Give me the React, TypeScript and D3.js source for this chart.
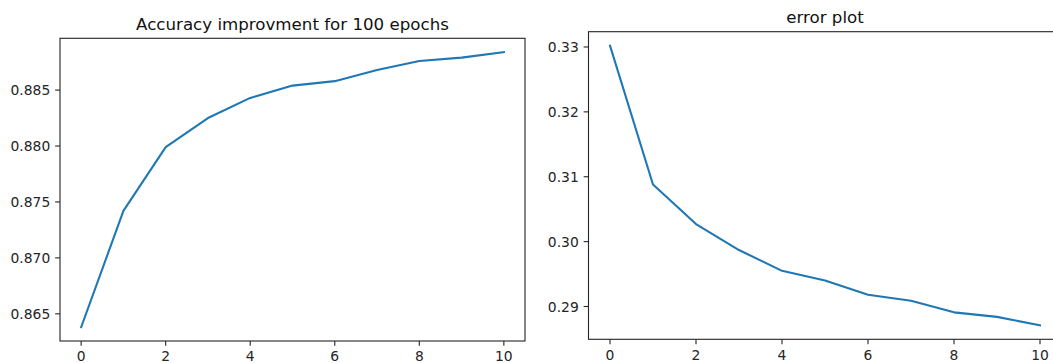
import React from "react";
import * as d3 from "d3";

const epochs = [0, 1, 2, 3, 4, 5, 6, 7, 8, 9, 10];
const accuracy = [0.8638, 0.8742, 0.8799, 0.8825, 0.8843, 0.8854, 0.8858, 0.8868, 0.8876, 0.8879, 0.8884];
const errorVals = [0.3302, 0.3088, 0.3027, 0.2987, 0.2955, 0.2940, 0.2918, 0.2909, 0.2891, 0.2884, 0.2871];
const xTicks = [0, 2, 4, 6, 8, 10];
const accTicks = [0.865, 0.87, 0.875, 0.88, 0.885];
const errTicks = [0.29, 0.3, 0.31, 0.32, 0.33];

const FONT = "DejaVu Sans, sans-serif";
const LINE = "#1f77b4";
const INK = "#262626";
const S = 100 / 72; // pt -> px

type PanelProps = {
  left: number; right: number; top: number; bottom: number;
  values: number[]; yTicks: number[]; fmt: (v: number) => string; title: string;
};

function Panel({ left, right, top, bottom, values, yTicks, fmt, title }: PanelProps) {
  const xExt = d3.extent(epochs) as [number, number];
  const xm = (xExt[1] - xExt[0]) * 0.05;
  const x = d3.scaleLinear().domain([xExt[0] - xm, xExt[1] + xm]).range([left, right]);
  const yExt = d3.extent(values) as [number, number];
  const ym = (yExt[1] - yExt[0]) * 0.05;
  const y = d3.scaleLinear().domain([yExt[0] - ym, yExt[1] + ym]).range([bottom, top]);
  const line = d3.line<number>().x((_, i) => x(epochs[i])).y((d) => y(d));
  const tl = 3.5 * S;
  const pad = 3.5 * S;
  const fs = 10 * S;
  return (
    <g>
      <path d={line(values) || ""} fill="none" stroke={LINE} strokeWidth={1.5 * S} strokeLinejoin="round" strokeLinecap="square" />
      <rect x={left} y={top} width={right - left} height={bottom - top} fill="none" stroke={INK} strokeWidth={0.8 * S} />
      {xTicks.map((t) => (
        <g key={"x" + t}>
          <line x1={x(t)} x2={x(t)} y1={bottom} y2={bottom + tl} stroke={INK} strokeWidth={0.8 * S} />
          <text x={x(t)} y={bottom + tl + pad} dy="0.76em" textAnchor="middle" fontSize={fs} fontFamily={FONT} fill={INK}>{t}</text>
        </g>
      ))}
      {yTicks.map((t) => (
        <g key={"y" + t}>
          <line x1={left - tl} x2={left} y1={y(t)} y2={y(t)} stroke={INK} strokeWidth={0.8 * S} />
          <text x={left - tl - pad} y={y(t)} dy="0.36em" textAnchor="end" fontSize={fs} fontFamily={FONT} fill={INK}>{fmt(t)}</text>
        </g>
      ))}
      <text x={(left + right) / 2} y={top - 6 * S} textAnchor="middle" fontSize={12 * S} fontFamily={FONT} fill="#111">{title}</text>
    </g>
  );
}

export default function App() {
  return (
    <svg width={1053} height={363} style={{ position: "absolute", left: 0, top: 0, background: "#fff" }}>
      <rect width={1053} height={363} fill="#fff" />
      <Panel left={60} right={525} top={38.3} bottom={341} values={accuracy} yTicks={accTicks}
        fmt={d3.format(".3f")} title="Accuracy improvment for 100 epochs" />
      <Panel left={588.5} right={1061.5} top={31.7} bottom={339.3} values={errorVals} yTicks={errTicks}
        fmt={d3.format(".2f")} title="error plot" />
    </svg>
  );
}
